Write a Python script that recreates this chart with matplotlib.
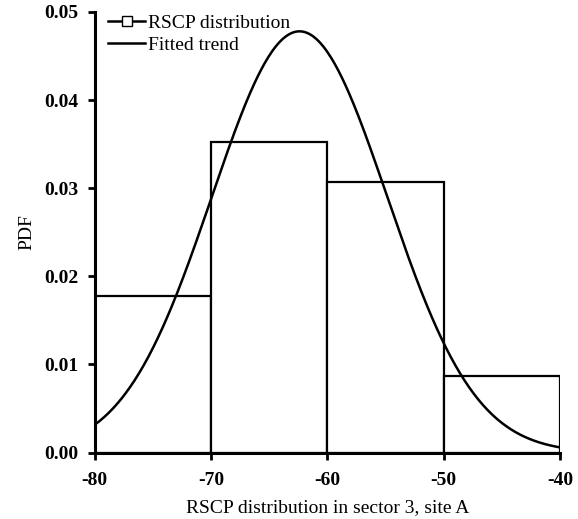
import numpy as np
import matplotlib
matplotlib.use("Agg")
import matplotlib.pyplot as plt
from matplotlib.lines import Line2D

plt.rcParams['font.family'] = ['Liberation Serif', 'DejaVu Serif']

# histogram of RSCP values (dBm), bin edges every 10 dB
bin_left = [-80, -70, -60, -50]
bin_width = 10
pdf_values = [0.0178, 0.0352, 0.0307, 0.0087]

# fitted gaussian trend
fit_peak = 0.0478
fit_mean = -62.4
fit_sigma = 7.55

x_ticks = [-80, -70, -60, -50, -40]
y_ticks = [0.00, 0.01, 0.02, 0.03, 0.04, 0.05]

fig = plt.figure(figsize=(5.78, 5.19), dpi=100)
ax = fig.add_axes([0.164, 0.128, 0.805, 0.849])

ax.bar(bin_left, pdf_values, width=bin_width, align='edge',
       facecolor='white', edgecolor='black', linewidth=1.6, zorder=2)

xs = np.linspace(-80, -40, 400)
ys = fit_peak * np.exp(-0.5 * ((xs - fit_mean) / fit_sigma) ** 2)
ax.plot(xs, ys, color='black', linewidth=1.8, zorder=3)

ax.set_xlim(-80, -40)
ax.set_ylim(0, 0.05)
ax.set_xticks(x_ticks)
ax.set_yticks(y_ticks)
ax.set_xticklabels([str(t) for t in x_ticks], fontsize=14, fontweight='bold')
ax.set_yticklabels(['%.2f' % t for t in y_ticks], fontsize=14, fontweight='bold')
ax.tick_params(direction='out', length=5, width=2)
ax.tick_params(axis='x', pad=9)
ax.tick_params(axis='y', pad=7)

for side in ['top', 'right']:
    ax.spines[side].set_visible(False)
for side in ['left', 'bottom']:
    ax.spines[side].set_linewidth(2.2)

ax.set_xlabel('RSCP distribution in sector 3, site A', fontsize=14, labelpad=7)
ax.set_ylabel('PDF', fontsize=14, labelpad=6)

handles = [
    Line2D([], [], color='black', linewidth=1.8, marker='s',
           markerfacecolor='white', markeredgecolor='black', markersize=7),
    Line2D([], [], color='black', linewidth=1.8),
]
ax.legend(handles, ['RSCP distribution', 'Fitted trend'], loc='upper left',
          bbox_to_anchor=(0.0, 1.025), frameon=False, fontsize=14,
          handlelength=1.9, handletextpad=0.15, labelspacing=0.2,
          borderaxespad=0.3)

fig.savefig('out.png', dpi=100)
